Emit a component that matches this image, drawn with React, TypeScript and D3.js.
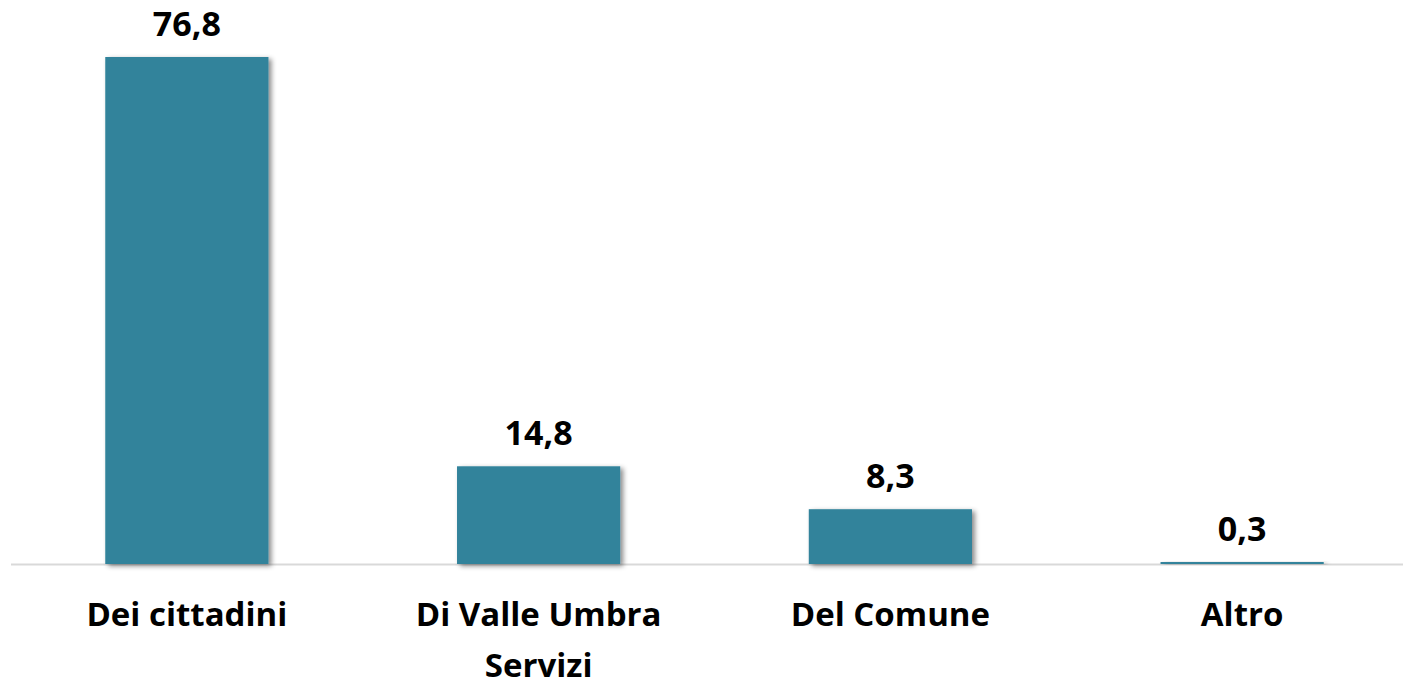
import React from "react";
import * as d3 from "d3";

const categories: string[][] = [["Dei cittadini"], ["Di Valle Umbra", "Servizi"], ["Del Comune"], ["Altro"]];
const values: number[] = [76.8, 14.8, 8.3, 0.3];
const valueLabels: string[] = ["76,8", "14,8", "8,3", "0,3"];

const W = 1403;
const H = 682;
const baseY = 564;
const FONT = "'Open Sans', 'DejaVu Sans', sans-serif";

export default function App() {
  const keys = categories.map((_, i) => String(i));
  const x = d3.scaleBand<string>().domain(keys).range([11, 1418]).paddingInner(0.536).paddingOuter(0.268);
  const y = d3.scaleLinear().domain([0, 76.8]).range([baseY, 57]);
  return (
    <svg width={W} height={H} style={{ position: "absolute", left: 0, top: 0, display: "block" }}>
      <defs>
        <filter id="sh" x="-10%" y="-10%" width="130%" height="130%">
          <feDropShadow dx="3" dy="2" stdDeviation="2.5" floodColor="#000" floodOpacity="0.45" />
        </filter>
      </defs>
      <line x1={11} x2={W} y1={baseY + 0.5} y2={baseY + 0.5} stroke="#d9d9d9" strokeWidth={2} />
      {values.map((v, i) => {
        const bx = x(String(i))!;
        const bw = x.bandwidth();
        const top = y(v);
        return (
          <g key={i}>
            <rect x={bx} y={top} width={bw} height={Math.max(baseY - top, 1.5)} fill="#31839b" filter="url(#sh)" />
            <text x={bx + bw / 2} y={top - 21} textAnchor="middle" fontFamily={FONT} fontWeight="bold" fontSize={34} fill="#000">
              {valueLabels[i]}
            </text>
            <text x={bx + bw / 2} y={626} textAnchor="middle" fontFamily={FONT} fontWeight="bold" fontSize={33} fill="#000">
              {categories[i].map((line, j) => (
                <tspan key={j} x={bx + bw / 2} dy={j === 0 ? 0 : 51}>{line}</tspan>
              ))}
            </text>
          </g>
        );
      })}
    </svg>
  );
}
